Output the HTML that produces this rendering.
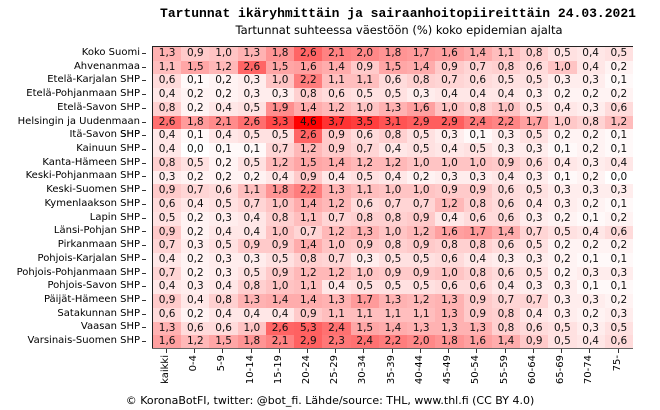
<!DOCTYPE html>
<html><head><meta charset="utf-8"><style>
body{margin:0;width:660px;height:410px;background:#fff;position:relative;overflow:hidden;font-family:"DejaVu Sans","Liberation Sans",sans-serif;}
.t{position:absolute;white-space:nowrap;}
#title{left:0;width:796px;text-align:center;top:6px;font-family:"Liberation Mono",monospace;font-weight:bold;font-size:13px;}
#sub{left:0;width:798px;text-align:center;top:23px;font-size:11.5px;}
#foot{left:0;width:660px;text-align:center;top:394px;font-size:11px;}
#grid{position:absolute;left:152px;top:46px;border-collapse:collapse;table-layout:fixed;width:480px;border-top:1px solid #222;border-left:1px solid #222;}
#grid td{width:28.24px;height:13.73px;padding:0;text-align:center;font-size:10.5px;line-height:13.73px;color:#111;}
#labels{position:absolute;left:0;top:46px;width:146px;}
#labels div{height:13.73px;line-height:13.73px;text-align:right;font-size:10px;padding-right:6px;position:relative;}
#labels div:after{content:"";position:absolute;right:0;top:7px;width:4px;height:1px;background:#333;}
#xl{position:absolute;left:152px;top:348px;width:481px;height:50px;border-top:1px solid #666;}
#xl div{position:absolute;top:0;width:1px;height:4px;background:#333;}
#xl span{position:absolute;top:6px;font-size:10px;transform-origin:0 0;transform:rotate(-90deg) translateX(-100%);white-space:nowrap;}
</style></head><body>
<div class="t" id="title">Tartunnat ikäryhmittäin ja sairaanhoitopiireittäin 24.03.2021</div>
<div class="t" id="sub">Tartunnat suhteessa väestöön (%) koko epidemian ajalta</div>
<div id="labels">
<div>Koko Suomi</div><div>Ahvenanmaa</div><div>Etelä-Karjalan SHP</div><div>Etelä-Pohjanmaan SHP</div><div>Etelä-Savon SHP</div><div>Helsingin ja Uudenmaan SHP</div><div>Itä-Savon SHP</div><div>Kainuun SHP</div><div>Kanta-Hämeen SHP</div><div>Keski-Pohjanmaan SHP</div><div>Keski-Suomen SHP</div><div>Kymenlaakson SHP</div><div>Lapin SHP</div><div>Länsi-Pohjan SHP</div><div>Pirkanmaan SHP</div><div>Pohjois-Karjalan SHP</div><div>Pohjois-Pohjanmaan SHP</div><div>Pohjois-Savon SHP</div><div>Päijät-Hämeen SHP</div><div>Satakunnan SHP</div><div>Vaasan SHP</div><div>Varsinais-Suomen SHP</div>
</div>
<table id="grid">
<tr><td>1,3</td><td>0,9</td><td>1,0</td><td>1,3</td><td>1,8</td><td>2,6</td><td>2,1</td><td>2,0</td><td>1,8</td><td>1,7</td><td>1,6</td><td>1,4</td><td>1,1</td><td>0,8</td><td>0,5</td><td>0,4</td><td>0,5</td></tr>
<tr><td>1,1</td><td>1,5</td><td>1,2</td><td>2,6</td><td>1,5</td><td>1,6</td><td>1,4</td><td>0,9</td><td>1,5</td><td>1,4</td><td>0,9</td><td>0,7</td><td>0,8</td><td>0,6</td><td>1,0</td><td>0,4</td><td>0,2</td></tr>
<tr><td>0,6</td><td>0,1</td><td>0,2</td><td>0,3</td><td>1,0</td><td>2,2</td><td>1,1</td><td>1,1</td><td>0,6</td><td>0,8</td><td>0,7</td><td>0,6</td><td>0,5</td><td>0,5</td><td>0,3</td><td>0,3</td><td>0,1</td></tr>
<tr><td>0,4</td><td>0,2</td><td>0,2</td><td>0,3</td><td>0,3</td><td>0,8</td><td>0,6</td><td>0,5</td><td>0,5</td><td>0,3</td><td>0,4</td><td>0,4</td><td>0,4</td><td>0,3</td><td>0,2</td><td>0,2</td><td>0,2</td></tr>
<tr><td>0,8</td><td>0,2</td><td>0,4</td><td>0,5</td><td>1,9</td><td>1,4</td><td>1,2</td><td>1,0</td><td>1,3</td><td>1,6</td><td>1,0</td><td>0,8</td><td>1,0</td><td>0,5</td><td>0,4</td><td>0,3</td><td>0,6</td></tr>
<tr class="h"><td>2,6</td><td>1,8</td><td>2,1</td><td>2,6</td><td>3,3</td><td>4,6</td><td>3,7</td><td>3,5</td><td>3,1</td><td>2,9</td><td>2,9</td><td>2,4</td><td>2,2</td><td>1,7</td><td>1,0</td><td>0,8</td><td>1,2</td></tr>
<tr><td>0,4</td><td>0,1</td><td>0,4</td><td>0,5</td><td>0,5</td><td>2,6</td><td>0,9</td><td>0,6</td><td>0,8</td><td>0,5</td><td>0,3</td><td>0,1</td><td>0,3</td><td>0,5</td><td>0,2</td><td>0,2</td><td>0,1</td></tr>
<tr><td>0,4</td><td>0,0</td><td>0,1</td><td>0,1</td><td>0,7</td><td>1,2</td><td>0,9</td><td>0,7</td><td>0,4</td><td>0,5</td><td>0,4</td><td>0,5</td><td>0,3</td><td>0,3</td><td>0,1</td><td>0,2</td><td>0,1</td></tr>
<tr><td>0,8</td><td>0,5</td><td>0,2</td><td>0,5</td><td>1,2</td><td>1,5</td><td>1,4</td><td>1,2</td><td>1,2</td><td>1,0</td><td>1,0</td><td>1,0</td><td>0,9</td><td>0,6</td><td>0,4</td><td>0,3</td><td>0,4</td></tr>
<tr><td>0,3</td><td>0,2</td><td>0,2</td><td>0,2</td><td>0,4</td><td>0,9</td><td>0,4</td><td>0,5</td><td>0,4</td><td>0,2</td><td>0,3</td><td>0,3</td><td>0,4</td><td>0,3</td><td>0,1</td><td>0,2</td><td>0,0</td></tr>
<tr><td>0,9</td><td>0,7</td><td>0,6</td><td>1,1</td><td>1,8</td><td>2,2</td><td>1,3</td><td>1,1</td><td>1,0</td><td>1,0</td><td>0,9</td><td>0,9</td><td>0,6</td><td>0,5</td><td>0,3</td><td>0,3</td><td>0,3</td></tr>
<tr><td>0,6</td><td>0,4</td><td>0,5</td><td>0,7</td><td>1,0</td><td>1,4</td><td>1,2</td><td>0,6</td><td>0,7</td><td>0,7</td><td>1,2</td><td>0,8</td><td>0,6</td><td>0,4</td><td>0,3</td><td>0,2</td><td>0,1</td></tr>
<tr><td>0,5</td><td>0,2</td><td>0,3</td><td>0,4</td><td>0,8</td><td>1,1</td><td>0,7</td><td>0,8</td><td>0,8</td><td>0,9</td><td>0,4</td><td>0,6</td><td>0,6</td><td>0,3</td><td>0,2</td><td>0,1</td><td>0,2</td></tr>
<tr><td>0,9</td><td>0,2</td><td>0,4</td><td>0,4</td><td>1,0</td><td>0,7</td><td>1,2</td><td>1,3</td><td>1,0</td><td>1,2</td><td>1,6</td><td>1,7</td><td>1,4</td><td>0,7</td><td>0,5</td><td>0,4</td><td>0,6</td></tr>
<tr><td>0,7</td><td>0,3</td><td>0,5</td><td>0,9</td><td>0,9</td><td>1,4</td><td>1,0</td><td>0,9</td><td>0,8</td><td>0,9</td><td>0,8</td><td>0,8</td><td>0,6</td><td>0,5</td><td>0,2</td><td>0,2</td><td>0,2</td></tr>
<tr><td>0,4</td><td>0,2</td><td>0,3</td><td>0,3</td><td>0,5</td><td>0,8</td><td>0,7</td><td>0,3</td><td>0,5</td><td>0,5</td><td>0,6</td><td>0,4</td><td>0,3</td><td>0,3</td><td>0,2</td><td>0,1</td><td>0,1</td></tr>
<tr><td>0,7</td><td>0,2</td><td>0,3</td><td>0,5</td><td>0,9</td><td>1,2</td><td>1,2</td><td>1,0</td><td>0,9</td><td>0,9</td><td>1,0</td><td>0,8</td><td>0,6</td><td>0,5</td><td>0,2</td><td>0,3</td><td>0,3</td></tr>
<tr><td>0,4</td><td>0,3</td><td>0,4</td><td>0,8</td><td>1,0</td><td>1,1</td><td>0,4</td><td>0,5</td><td>0,5</td><td>0,5</td><td>0,6</td><td>0,6</td><td>0,4</td><td>0,3</td><td>0,3</td><td>0,1</td><td>0,1</td></tr>
<tr><td>0,9</td><td>0,4</td><td>0,8</td><td>1,3</td><td>1,4</td><td>1,4</td><td>1,3</td><td>1,7</td><td>1,3</td><td>1,2</td><td>1,3</td><td>0,9</td><td>0,7</td><td>0,7</td><td>0,3</td><td>0,3</td><td>0,2</td></tr>
<tr><td>0,6</td><td>0,2</td><td>0,4</td><td>0,4</td><td>0,4</td><td>0,9</td><td>1,1</td><td>1,1</td><td>1,1</td><td>1,1</td><td>1,3</td><td>0,9</td><td>0,8</td><td>0,4</td><td>0,3</td><td>0,2</td><td>0,3</td></tr>
<tr><td>1,3</td><td>0,6</td><td>0,6</td><td>1,0</td><td>2,6</td><td>5,3</td><td>2,4</td><td>1,5</td><td>1,4</td><td>1,3</td><td>1,3</td><td>1,3</td><td>0,8</td><td>0,6</td><td>0,5</td><td>0,3</td><td>0,5</td></tr>
<tr><td>1,6</td><td>1,2</td><td>1,5</td><td>1,8</td><td>2,1</td><td>2,9</td><td>2,3</td><td>2,4</td><td>2,2</td><td>2,0</td><td>1,8</td><td>1,6</td><td>1,4</td><td>0,9</td><td>0,5</td><td>0,4</td><td>0,6</td></tr>
</table>
<div id="xl">
<div style="left:14px"></div><span style="left:8px">kaikki</span>
<div style="left:42px"></div><span style="left:36px">0-4</span>
<div style="left:70px"></div><span style="left:64px">5-9</span>
<div style="left:99px"></div><span style="left:93px">10-14</span>
<div style="left:127px"></div><span style="left:121px">15-19</span>
<div style="left:155px"></div><span style="left:149px">20-24</span>
<div style="left:183px"></div><span style="left:177px">25-29</span>
<div style="left:211px"></div><span style="left:205px">30-34</span>
<div style="left:240px"></div><span style="left:234px">35-39</span>
<div style="left:268px"></div><span style="left:262px">40-44</span>
<div style="left:296px"></div><span style="left:290px">45-49</span>
<div style="left:324px"></div><span style="left:318px">50-54</span>
<div style="left:353px"></div><span style="left:347px">55-59</span>
<div style="left:381px"></div><span style="left:375px">60-64</span>
<div style="left:409px"></div><span style="left:403px">65-69</span>
<div style="left:437px"></div><span style="left:431px">70-74</span>
<div style="left:466px"></div><span style="left:460px">75-</span>
</div>
<div class="t" id="foot">© KoronaBotFI, twitter: @bot_fi. Lähde/source: THL, www.thl.fi (CC BY 4.0)</div>
<script>
document.querySelectorAll('#grid tr').forEach(function(tr){
  var h=tr.className==='h';
  tr.querySelectorAll('td').forEach(function(td){
    var v=parseFloat(td.textContent.replace(',','.'));
    var t=h?Math.min(1,v/4.6):Math.min(0.62,v/4.3);
    var g=Math.round(255*(1-t));
    td.style.background='rgb(255,'+g+','+g+')';
  });
});
</script>
</body></html>
